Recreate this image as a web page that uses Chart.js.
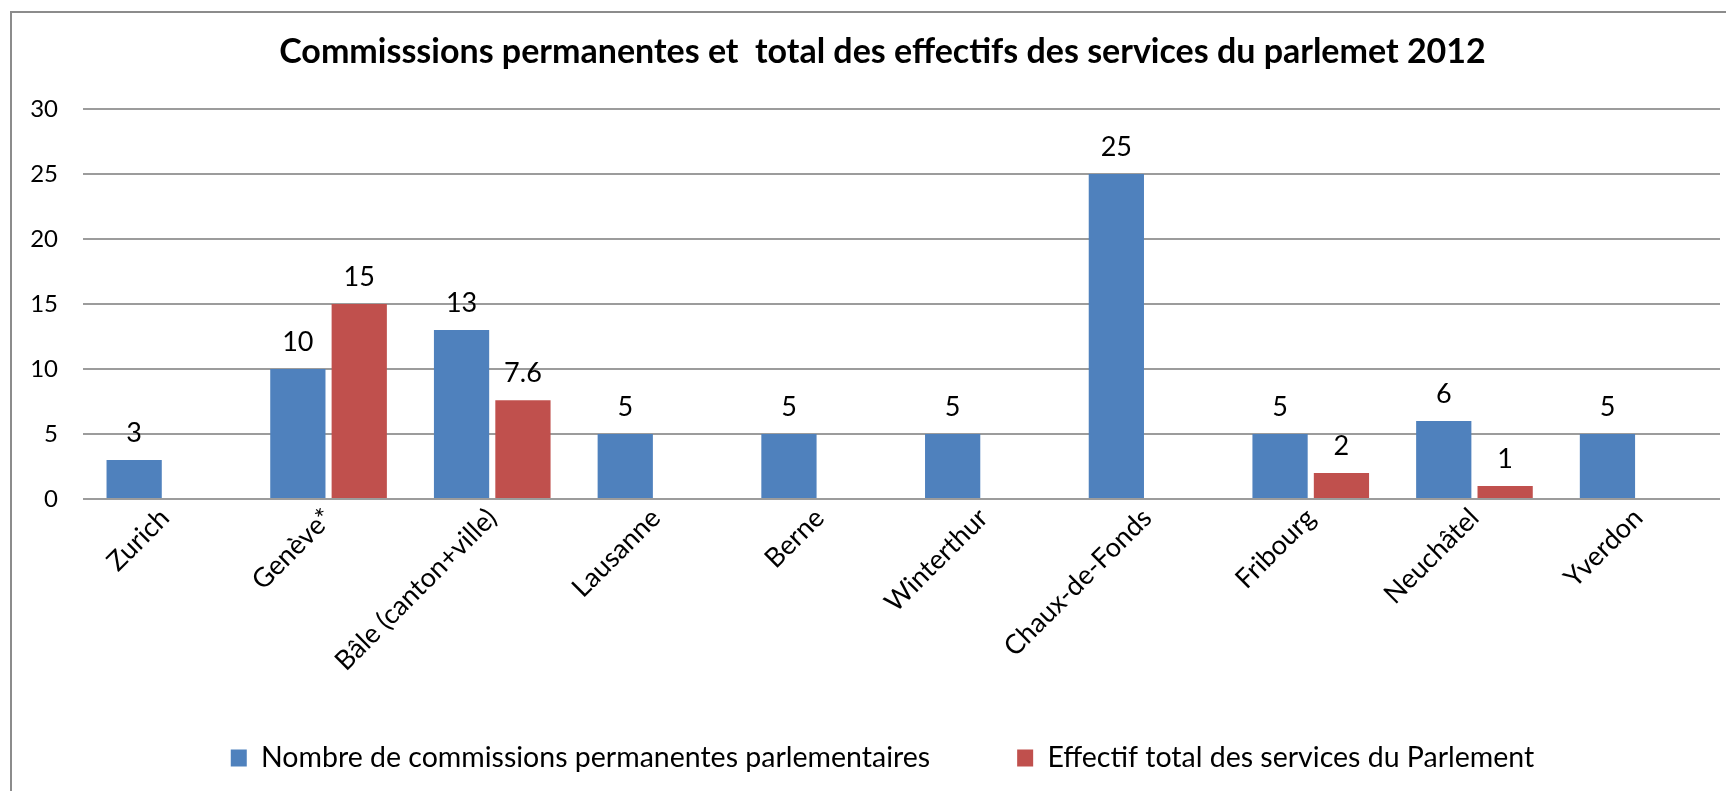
<!DOCTYPE html>
<html>
<head>
<meta charset="utf-8">
<script src="https://cdn.jsdelivr.net/npm/chart.js@4.4.1/dist/chart.umd.min.js"></script>
<style>
  html, body { margin: 0; padding: 0; background: #ffffff; }
  #frame { position: absolute; left: 10px; top: 11px; width: 1800px; height: 900px;
           border-left: 2px solid #8c8c8c; border-top: 2px solid #8c8c8c; }
  #wrap { position: absolute; left: 0; top: 0; width: 1726px; height: 791px; }
</style>
</head>
<body>
<div id="frame"></div>
<div id="wrap"><canvas id="c" width="1726" height="791"></canvas></div>
<script>
const categories = ["Zurich", "Genève*", "Bâle (canton+ville)", "Lausanne", "Berne",
                    "Winterthur", "Chaux-de-Fonds", "Fribourg", "Neuchâtel", "Yverdon"];
const commissions = [3, 10, 13, 5, 5, 5, 25, 5, 6, 5];
const effectifs = [null, 15, 7.6, null, null, null, null, 2, 1, null];
const yTicks = [0, 5, 10, 15, 20, 25, 30];
const seriesNames = ["Nombre de commissions permanentes parlementaires",
                     "Effectif total des services du Parlement"];
const titleText = "Commisssions permanentes et  total des effectifs des services du parlemet 2012";

const FONT = "Lato, 'Open Sans', 'DejaVu Sans', sans-serif";

const valueLabels = {
  id: 'valueLabels',
  afterDatasetsDraw(chart) {
    const ctx = chart.ctx;
    ctx.save();
    ctx.font = "27px " + FONT;
    ctx.fillStyle = "#000";
    ctx.textAlign = "center";
    ctx.textBaseline = "alphabetic";
    chart.data.datasets.forEach((ds, i) => {
      const meta = chart.getDatasetMeta(i);
      meta.data.forEach((el, j) => {
        const v = ds.data[j];
        if (v === null || v === undefined) return;
        ctx.fillText(String(v), el.x, el.y - 18);
      });
    });
    ctx.restore();
  }
};

const noClip = (s) => { s._computeLabelArea = () => undefined; };

new Chart(document.getElementById('c'), {
  type: 'bar',
  data: {
    labels: categories,
    datasets: [
      { label: seriesNames[0], data: commissions, backgroundColor: '#4F81BD',
        categoryPercentage: 0.75, barPercentage: 0.9 },
      { label: seriesNames[1], data: effectifs, backgroundColor: '#C0504D',
        categoryPercentage: 0.75, barPercentage: 0.9 }
    ]
  },
  options: {
    responsive: false,
    devicePixelRatio: 1,
    animation: false,
    layout: { padding: { left: 45, right: 6, top: 0, bottom: 8.75 } },
    plugins: {
      title: {
        display: true,
        text: titleText,
        color: '#000',
        font: { family: FONT, size: 34, weight: 'bold' },
        padding: { top: 31.6, bottom: 36.6 }
      },
      legend: {
        position: 'bottom',
        labels: {
          color: '#000',
          font: { family: FONT, size: 28.5 },
          boxWidth: 16,
          boxHeight: 17,
          padding: 87
        }
      },
      tooltip: { enabled: false }
    },
    scales: {
      x: {
        grid: { display: false },
        border: { display: false },
        ticks: {
          color: '#000',
          font: { family: FONT, size: 27 },
          minRotation: 45, maxRotation: 45,
          autoSkip: false,
          padding: -5
        },
        afterFit(s) { s.height = 157.75; noClip(s); }
      },
      y: {
        min: 0, max: 30,
        afterBuildTicks(s) { s.ticks = yTicks.map(v => ({ value: v })); },
        grid: { color: '#9c9c9c', lineWidth: 2, drawTicks: false },
        border: { display: false },
        ticks: {
          color: '#000',
          font: { family: FONT, size: 24 },
          padding: 25
        },
        afterFit(s) { s.width = 38; noClip(s); }
      }
    }
  },
  plugins: [valueLabels]
});
</script>
</body>
</html>
